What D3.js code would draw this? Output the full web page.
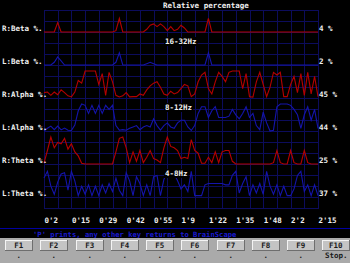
<!DOCTYPE html>
<html>
<head>
<meta charset="utf-8">
<script src="https://cdn.jsdelivr.net/npm/d3@7"></script>
<style>
    body { margin: 0; background: #000; }
    svg { display: block; }
    text { font-family: "DejaVu Sans Mono", monospace; font-weight: bold; }
</style>
</head>
<body>
<svg id="graph" width="350" height="263"></svg>
<script>
var seriesNames = ["R:Beta %.", "L:Beta %.", "R:Alpha %.", "L:Alpha %.", "R:Theta %.", "L:Theta %."];
var currentValues = ["4 %", "2 %", "45 %", "44 %", "25 %", "37 %"];
var bandLabels = ["16-32Hz", "8-12Hz", "4-8Hz"];
var timeLabels = ["0'2", "0'15", "0'29", "0'42", "0'55", "1'9", "1'22", "1'35", "1'48", "2'2", "2'15"];
var fKeys = ["F1", "F2", "F3", "F4", "F5", "F6", "F7", "F8", "F9", "F10"];
var fKeyActions = [".", ".", ".", ".", ".", ".", ".", ".", ".", "Stop."];
var message = "'P' prints, any other key returns to BrainScape";

// relative level per sample, 0..10
var rBeta = [0,0,0,0,3.5,0,0,0,0,0, 0,0,0,0,0,0,0,0,0,0, 0,0.5,5,0,0,0,0,0,0,0,
    1,2.5,3,2,3,2,0.5,2,0.5,1, 2.5,1.5,0,0,0,0,0,0,5,0,
    0,0,0,0,0,0,0,0,0,0, 0,0,0,0,0,0,0,0,0,0, 0,0,0,0,0,0,0,0,0,0, 0];
var lBeta = [0,0,0,1,3,1.5,0,0,0,0, 0,0,0,0,0,0,0,0,0,0, 0,1,4.5,0,0,0,0,0,0,0,
    0.5,1,0.5,0,0,0,0,0,0,0, 0,0,0,0,0,0,0,0,4.5,0,
    0,0,0,0,0,0,0,0,0,0, 0,0,0,0,0,0,0,0,0,0, 0,0,0,0,0,0,0,0,0,0, 0];
var rAlpha = [2,2.2,1,2.2,1.2,3,2,0.8,0.4,2.2, 6.5,5.5,10,10,10,10,5,9,1,9.5,
    6,1,0.4,0.8,2,0.4,0.5,0.5,1.5,1, 3,4.5,5.5,6,4,1.5,1,2.5,1.5,2,
    3.5,5,4.5,0.5,1.5,6,8.5,9.5,3.5,1.5, 6,9.5,8,6,9.5,10,10,10,3.5,9,
    0.5,0.3,6,9.5,5,0.5,4,9.5,8.5,9.5, 0.5,0.5,5,8,2,9,1,9.5,1.5,8, 0.5];
var lAlpha = [0,1,1.8,0.5,1.8,0.4,1.1,0.3,0.2,2.2, 7.5,10,9.5,6.5,9.5,6.5,9.5,6.5,9.5,8,
    9.5,2,0.3,0.5,0.3,1,1.5,2,0.5,1.5, 2,1.5,4.5,2,0.3,2,3,1.5,1,3,
    4,4,1.5,0.2,2,6.5,9,9,5,7.5, 9,5,5,5,5.5,8,6,4.5,6.5,9,
    5,6.5,2,0.5,7,3,0,0.3,9,10, 10,10,9.5,8,6,1,6,9,4,8, 1];
var rTheta = [0.3,5,10,6,8,7.5,9.5,5.5,7.5,4.5, 3,0.3,0,0,0,0,0,0,0,0,
    0,4.5,9.5,10,6,0.5,4.5,1,5,0.5, 2.5,5,2,1.5,0.5,6,10,6.5,6,5,
    2,2.5,2,9,5,4,0.3,0.3,2.5,0.5, 4.5,0.5,4.5,5,5,1,0,0,0,0,
    0,0,0,0,0,0,0,0.5,5,0.5, 0,0,5,0.5,0,0,5,0.5,0,0, 0];
var lTheta = [7,9.5,4,1,5.5,8.5,9,2.5,9.5,6, 0.5,4,1,4.5,0.5,4,0.5,4.5,1.5,5,
    2,7,2.5,0.5,9,6,0.5,7.5,5,0.5, 4.5,0.5,7.5,8,0.5,6.5,9,7.5,8.5,6,
    3,4.5,2,9.5,0.5,0.5,0.5,4.5,5,5, 5,5,5,4.5,4.5,8,9.5,1.5,5,7.5,
    0.5,4.5,1.5,5,1,9.5,4,1,4.5,0.5, 4,0.5,0.5,3,8,9.5,2,4.5,0.5,4.5, 0.5];

var series = [rBeta, lBeta, rAlpha, lAlpha, rTheta, lTheta];
var seriesColors = ["#b40000", "#1414ac", "#b40000", "#1414ac", "#b40000", "#1414ac"];

(function() {
    var svg = d3.select("#graph");
    var left = 44, right = 318, top = 10, bottom = 208;

    var x = d3.scaleLinear().domain([0, rBeta.length - 1]).range([left, right]);
    var row = d3.scaleLinear().domain([0, 18]).range([top, bottom]);
    var xTime = d3.scalePoint().domain(timeLabels).range([left, right]);

    // grid
    var grid = svg.append("g")
        .attr("stroke", "#0c0c5c")
        .attr("shape-rendering", "crispEdges");
    grid.selectAll(".v").data(d3.range(0, rBeta.length, 4)).join("line")
        .attr("x1", d => Math.round(x(d)) + 0.5).attr("x2", d => Math.round(x(d)) + 0.5)
        .attr("y1", top).attr("y2", bottom);
    grid.selectAll(".h").data(d3.range(0, 19)).join("line")
        .attr("x1", left).attr("x2", right + 1)
        .attr("y1", d => Math.round(row(d)) + 0.5).attr("y2", d => Math.round(row(d)) + 0.5);

    // traces
    series.forEach(function(values, k) {
        var base = row(2 + 3 * k);
        var y = d3.scaleLinear().domain([0, 10]).range([base, base - 27]);
        var line = d3.line().x((d, i) => x(i)).y(d => y(d));
        svg.append("path")
            .datum(values)
            .attr("fill", "none")
            .attr("stroke", seriesColors[k])
            .attr("stroke-width", 1.1)
            .attr("d", line);

        svg.append("text")
            .attr("x", 2).attr("y", base - 1)
            .attr("fill", "#f0f0f0").attr("font-size", "7.5px")
            .text(seriesNames[k]);
        svg.append("text")
            .attr("x", right + 1).attr("y", base - 1)
            .attr("fill", "#f0f0f0").attr("font-size", "7.5px")
            .text(currentValues[k]);
    });

    // band names
    bandLabels.forEach(function(t, k) {
        var yb = row(2 + 6 * k) + 12;
        var g = svg.append("g");
        var txt = g.append("text")
            .attr("x", 165).attr("y", yb)
            .attr("fill", "#f0f0f0").attr("font-size", "7.5px")
            .text(t);
        var bb = txt.node().getBBox();
        g.insert("rect", "text")
            .attr("x", bb.x - 1).attr("y", bb.y).attr("width", bb.width + 2).attr("height", bb.height)
            .attr("fill", "#000");
    });

    svg.append("text")
        .attr("x", 163).attr("y", 8)
        .attr("fill", "#f0f0f0").attr("font-size", "7.5px")
        .text("Relative percentage");

    // time axis
    svg.append("g")
        .attr("transform", `translate(0,${bottom})`)
        .call(d3.axisBottom(xTime).tickSize(0).tickPadding(10))
        .call(g => g.select(".domain").remove())
        .call(g => g.selectAll("text")
            .attr("text-anchor", "start")
            .attr("fill", "#f0f0f0")
            .attr("font-size", "7.5px")
            .attr("font-family", null));

    // message row
    svg.append("line")
        .attr("x1", 0).attr("x2", 350).attr("y1", 228.5).attr("y2", 228.5)
        .attr("stroke", "#0000a0");
    svg.append("text")
        .attr("x", 33).attr("y", 236.5)
        .attr("fill", "#1a1ad0").attr("font-size", "7.2px")
        .text(message);

    // function key panel
    svg.append("rect")
        .attr("x", 0).attr("y", 238).attr("width", 350).attr("height", 25)
        .attr("fill", "#aaaaaa");
    var kx = d3.scaleBand().domain(fKeys).range([5, 350]).paddingInner(0.22).paddingOuter(0);
    var keys = svg.selectAll(".key").data(fKeys).join("g")
        .attr("transform", d => `translate(${Math.round(kx(d))},240)`);
    keys.append("rect")
        .attr("width", kx.bandwidth()).attr("height", 10)
        .attr("fill", "#c4c4c4").attr("stroke", "#6e6e6e")
        .attr("shape-rendering", "crispEdges");
    keys.append("path")
        .attr("d", d => `M0.5,9.5V0.5H${kx.bandwidth() - 0.5}`)
        .attr("fill", "none").attr("stroke", "#f4f4f4")
        .attr("shape-rendering", "crispEdges");
    keys.append("text")
        .attr("x", kx.bandwidth() / 2).attr("y", 8)
        .attr("text-anchor", "middle")
        .attr("fill", "#1a1a1a").attr("font-size", "7.5px")
        .text(d => d);
    keys.append("text")
        .attr("x", (d, i) => i === 9 ? 3 : kx.bandwidth() / 2)
        .attr("y", 18)
        .attr("text-anchor", (d, i) => i === 9 ? "start" : "middle")
        .attr("fill", "#1a1a1a").attr("font-size", "7.5px")
        .text((d, i) => fKeyActions[i]);
})();
</script>
</body>
</html>
